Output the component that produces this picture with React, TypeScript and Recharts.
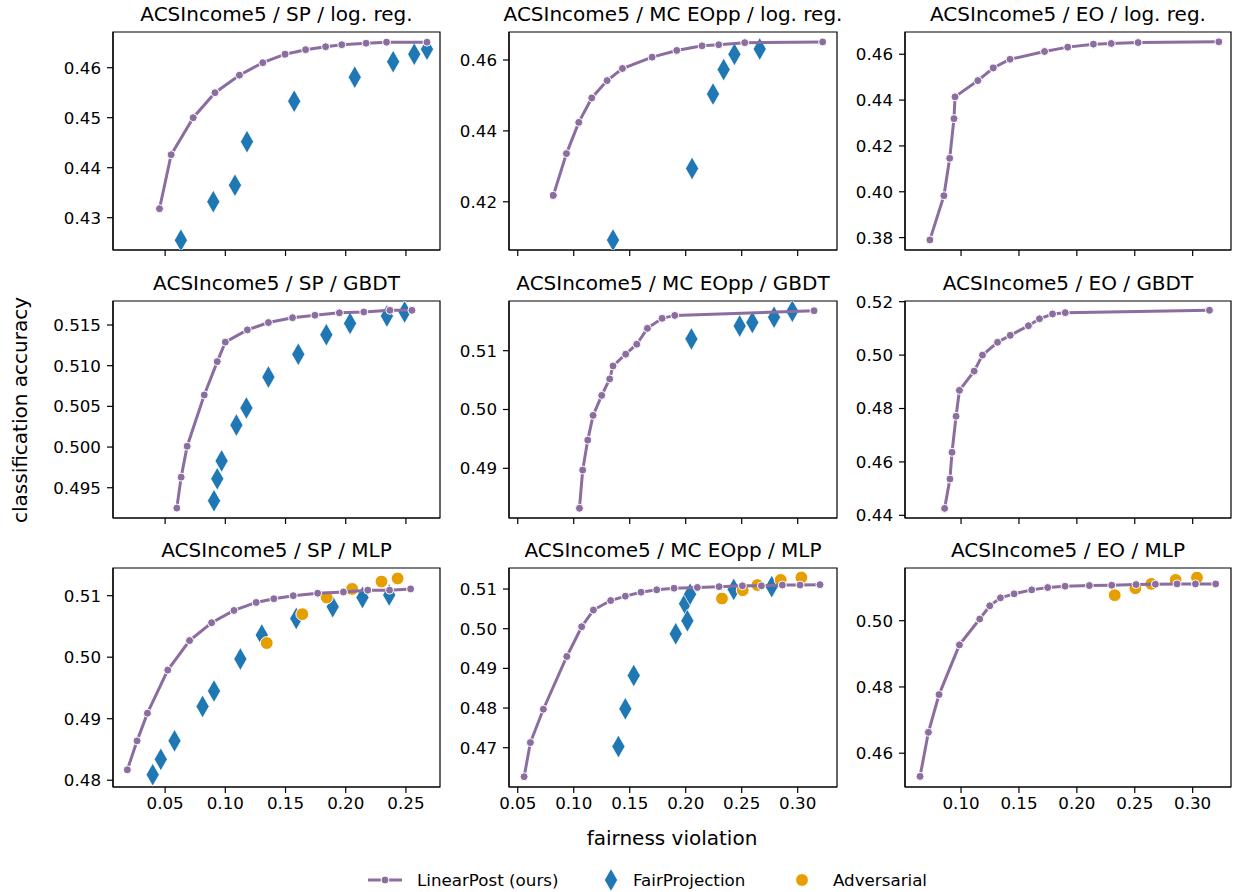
import React from 'react'
import { ScatterChart, Scatter, XAxis, YAxis, ReferenceArea } from 'recharts'

const PURPLE = '#8b6d9f'
const BLUE = '#1f77b4'
const ORANGE = '#e69f00'
const FONT = '"DejaVu Sans", sans-serif'

type Pt = [number, number]

// --- log. reg. row ---
const spLogregLinear: Pt[] = [
  [0.0453, 0.4318], [0.055, 0.4426], [0.0733, 0.45], [0.0914, 0.455], [0.1117, 0.4585],
  [0.1311, 0.461], [0.1497, 0.4627], [0.1667, 0.4636], [0.1833, 0.4642], [0.1967, 0.4646],
  [0.2169, 0.4649], [0.2339, 0.4651], [0.2675, 0.4651]
]
const spLogregFair: Pt[] = [
  [0.0631, 0.4255], [0.09, 0.4332], [0.108, 0.4365], [0.118, 0.4452], [0.1572, 0.4533],
  [0.2075, 0.4581], [0.2394, 0.4612], [0.2569, 0.4627], [0.2675, 0.4637]
]
const mcLogregLinear: Pt[] = [
  [0.0818, 0.4218], [0.0935, 0.4336], [0.1045, 0.4424], [0.1161, 0.4493], [0.1298, 0.4542],
  [0.1435, 0.4576], [0.17, 0.4608], [0.192, 0.4627], [0.2146, 0.464], [0.2295, 0.4643],
  [0.2527, 0.4649], [0.3223, 0.4651]
]
const mcLogregFair: Pt[] = [
  [0.1351, 0.4092], [0.2057, 0.4294], [0.2244, 0.4504], [0.2339, 0.4573], [0.2435, 0.4616],
  [0.2661, 0.4631]
]
const eoLogregLinear: Pt[] = [
  [0.0731, 0.379], [0.0852, 0.3983], [0.0902, 0.4146], [0.0939, 0.4319], [0.0948, 0.4414],
  [0.1145, 0.4485], [0.1278, 0.454], [0.1423, 0.4578], [0.1721, 0.4612], [0.1921, 0.4631],
  [0.2143, 0.4644], [0.2297, 0.4647], [0.2529, 0.4651], [0.3226, 0.4654]
]

// --- GBDT row ---
const spGbdtLinear: Pt[] = [
  [0.0597, 0.4925], [0.0633, 0.4963], [0.0683, 0.5001], [0.0825, 0.5064], [0.0933, 0.5105],
  [0.1, 0.5129], [0.1183, 0.5144], [0.1358, 0.5153], [0.1558, 0.5159], [0.1744, 0.5162],
  [0.1947, 0.5165], [0.215, 0.5166], [0.2367, 0.5168], [0.255, 0.5168]
]
const spGbdtFair: Pt[] = [
  [0.0906, 0.4934], [0.0933, 0.4961], [0.0969, 0.4983], [0.1092, 0.5027], [0.1175, 0.5048],
  [0.1358, 0.5086], [0.1606, 0.5114], [0.1839, 0.5138], [0.2036, 0.5152], [0.2342, 0.5161],
  [0.2489, 0.5166]
]
const mcGbdtLinear: Pt[] = [
  [0.1051, 0.4832], [0.108, 0.4897], [0.1125, 0.4948], [0.1173, 0.499], [0.125, 0.5024],
  [0.1321, 0.5052], [0.1351, 0.5074], [0.1464, 0.5094], [0.1563, 0.5111], [0.1658, 0.5138],
  [0.1789, 0.5155], [0.1902, 0.516], [0.3146, 0.5168]
]
const mcGbdtFair: Pt[] = [
  [0.2051, 0.512], [0.2482, 0.5142], [0.2595, 0.5148], [0.2789, 0.5157], [0.2952, 0.5167]
]
const eoGbdtLinear: Pt[] = [
  [0.0858, 0.4426], [0.0904, 0.4536], [0.0922, 0.4636], [0.0957, 0.4771], [0.0986, 0.4868],
  [0.1113, 0.494], [0.1185, 0.5], [0.1315, 0.5048], [0.1425, 0.5074], [0.1582, 0.511],
  [0.1677, 0.5136], [0.179, 0.5154], [0.19, 0.5159], [0.3145, 0.5168]
]

// --- MLP row ---
const spMlpLinear: Pt[] = [
  [0.0186, 0.4817], [0.0267, 0.4864], [0.0353, 0.4909], [0.0522, 0.4979], [0.0703, 0.5027],
  [0.0886, 0.5056], [0.1072, 0.5076], [0.1256, 0.5089], [0.1403, 0.5095], [0.1564, 0.51],
  [0.1767, 0.5104], [0.1981, 0.5106], [0.2183, 0.5109], [0.2364, 0.5109], [0.2539, 0.5111]
]
const spMlpFair: Pt[] = [
  [0.0397, 0.4809], [0.0464, 0.4834], [0.0578, 0.4864], [0.0811, 0.492], [0.0906, 0.4945],
  [0.1125, 0.4997], [0.1303, 0.5036], [0.1589, 0.5063], [0.1892, 0.5082], [0.2139, 0.5097],
  [0.2361, 0.5101]
]
const spMlpAdv: Pt[] = [
  [0.1344, 0.5023], [0.1639, 0.507], [0.1842, 0.5097], [0.2053, 0.5111], [0.2297, 0.5123],
  [0.2431, 0.5128]
]
const mcMlpLinear: Pt[] = [
  [0.0557, 0.4627], [0.0613, 0.4713], [0.0729, 0.4797], [0.0938, 0.493], [0.1071, 0.5005],
  [0.1176, 0.5047], [0.133, 0.5071], [0.1461, 0.5082], [0.1601, 0.5092], [0.1741, 0.5098],
  [0.1896, 0.5102], [0.2104, 0.5104], [0.2298, 0.5106], [0.2506, 0.5108], [0.2676, 0.5108],
  [0.2863, 0.511], [0.3021, 0.511], [0.3199, 0.5111]
]
const mcMlpFair: Pt[] = [
  [0.1399, 0.4703], [0.1461, 0.4798], [0.1536, 0.4882], [0.1911, 0.4987], [0.1994, 0.5063],
  [0.2015, 0.502], [0.2039, 0.5087], [0.2429, 0.5099], [0.2768, 0.5106]
]
const mcMlpAdv: Pt[] = [
  [0.2324, 0.5076], [0.2509, 0.5097], [0.264, 0.511], [0.2848, 0.5123], [0.3033, 0.5129]
]
const eoMlpLinear: Pt[] = [
  [0.0646, 0.453], [0.0718, 0.4663], [0.081, 0.4777], [0.0986, 0.4927], [0.1161, 0.5005],
  [0.1248, 0.5045], [0.134, 0.5069], [0.1458, 0.5081], [0.161, 0.5093], [0.1748, 0.51],
  [0.1898, 0.5104], [0.2108, 0.5106], [0.2301, 0.5107], [0.2511, 0.5109], [0.2678, 0.511],
  [0.2865, 0.5111], [0.3024, 0.5111], [0.3199, 0.5111]
]
const eoMlpAdv: Pt[] = [
  [0.2327, 0.5077], [0.2505, 0.5098], [0.2643, 0.5111], [0.2853, 0.5123], [0.3037, 0.513]
]

// axis ranges and ticks
const colXDomain: Pt[] = [[0.0067, 0.2783], [0.0422, 0.3351], [0.0516, 0.3331]]
const colXTicks = [
  [0.05, 0.1, 0.15, 0.2, 0.25],
  [0.05, 0.1, 0.15, 0.2, 0.25, 0.3],
  [0.1, 0.15, 0.2, 0.25, 0.3]
]
const titles = [
  'ACSIncome5 / SP / log. reg.', 'ACSIncome5 / MC EOpp / log. reg.', 'ACSIncome5 / EO / log. reg.',
  'ACSIncome5 / SP / GBDT', 'ACSIncome5 / MC EOpp / GBDT', 'ACSIncome5 / EO / GBDT',
  'ACSIncome5 / SP / MLP', 'ACSIncome5 / MC EOpp / MLP', 'ACSIncome5 / EO / MLP'
]
const yDomains: Pt[] = [
  [0.42354, 0.46714], [0.4064, 0.4679], [0.3746, 0.4697],
  [0.49128, 0.51795], [0.48155, 0.51845], [0.439, 0.52026],
  [0.4789, 0.5145], [0.4601, 0.5153], [0.4498, 0.5159]
]
const yTicks = [
  [0.43, 0.44, 0.45, 0.46], [0.42, 0.44, 0.46], [0.38, 0.4, 0.42, 0.44, 0.46],
  [0.495, 0.5, 0.505, 0.51, 0.515], [0.49, 0.5, 0.51], [0.44, 0.46, 0.48, 0.5, 0.52],
  [0.48, 0.49, 0.5, 0.51], [0.47, 0.48, 0.49, 0.5, 0.51], [0.46, 0.48, 0.5]
]
const yDecimals = [2, 2, 2, 3, 2, 2, 2, 2, 2]
const linearSeries = [
  spLogregLinear, mcLogregLinear, eoLogregLinear,
  spGbdtLinear, mcGbdtLinear, eoGbdtLinear,
  spMlpLinear, mcMlpLinear, eoMlpLinear
]
const fairSeries = [
  spLogregFair, mcLogregFair, [],
  spGbdtFair, mcGbdtFair, [],
  spMlpFair, mcMlpFair, []
]
const advSeries = [[], [], [], [], [], [], spMlpAdv, mcMlpAdv, eoMlpAdv]

// layout
const colLeft = [113, 509, 905]
const colWidth = [327, 328, 326]
const rowTop = [32, 301, 568]
const rowHeight = [218, 217, 219]
const YW = 80
const MT = 14
const MR = 14
const XH = 40

const toPts = (arr: Pt[]) => arr.map(([x, y]) => ({ x, y }))

const Diamond = (props: any) => {
  const { cx, cy } = props
  if (cx == null || cy == null) return null
  return (
    <path
      d={`M${cx},${cy - 11.5} L${cx + 6.6},${cy} L${cx},${cy + 11.5} L${cx - 6.6},${cy} Z`}
      fill={BLUE}
      stroke='#fff'
      strokeWidth={0.8}
    />
  )
}

const SmallDot = (props: any) => {
  const { cx, cy } = props
  if (cx == null || cy == null) return null
  return <circle cx={cx} cy={cy} r={4} fill={PURPLE} stroke='#fff' strokeWidth={1} />
}

const BigDot = (props: any) => {
  const { cx, cy } = props
  if (cx == null || cy == null) return null
  return <circle cx={cx} cy={cy} r={6.4} fill={ORANGE} stroke='#fff' strokeWidth={1} />
}

const tickStyle = { fontSize: 16.7, fill: '#000', fontFamily: FONT }

const Panel = ({ idx }: { idx: number }) => {
  const row = Math.floor(idx / 3)
  const col = idx % 3
  const w = colWidth[col]
  const h = rowHeight[row]
  const xd = colXDomain[col]
  const yd = yDomains[idx]
  const dec = yDecimals[idx]
  const showX = row === 2

  return (
    <>
      <div
        style={{
          position: 'absolute',
          left: colLeft[col] - 40,
          top: rowTop[row] - 30,
          width: w + 80,
          height: 24,
          lineHeight: '24px',
          textAlign: 'center',
          fontFamily: FONT,
          fontSize: 20,
          color: '#000',
          whiteSpace: 'nowrap'
        }}
      >
        {titles[idx]}
      </div>
      <div style={{ position: 'absolute', left: colLeft[col] - YW, top: rowTop[row] - MT }}>
        <ScatterChart
          width={YW + w + MR}
          height={MT + h + XH}
          margin={{ top: MT, right: MR, bottom: 0, left: 0 }}
        >
          <XAxis
            type='number'
            dataKey='x'
            domain={xd}
            ticks={colXTicks[col]}
            interval={0}
            allowDataOverflow
            height={XH}
            tickSize={6}
            tickMargin={4}
            tick={tickStyle}
            tickFormatter={(v: number) => (showX ? v.toFixed(2) : '')}
            axisLine={{ stroke: '#000', strokeWidth: 1.2 }}
            tickLine={{ stroke: '#000', strokeWidth: 1.2 }}
          />
          <YAxis
            type='number'
            dataKey='y'
            domain={yd}
            ticks={yTicks[idx]}
            interval={0}
            allowDataOverflow
            width={YW}
            tickSize={6}
            tickMargin={6}
            tick={tickStyle}
            tickFormatter={(v: number) => v.toFixed(dec)}
            axisLine={{ stroke: '#000', strokeWidth: 1.2 }}
            tickLine={{ stroke: '#000', strokeWidth: 1.2 }}
          />
          <ReferenceArea
            x1={xd[0]}
            x2={xd[1]}
            y1={yd[0]}
            y2={yd[1]}
            fill='none'
            fillOpacity={0}
            stroke='#000'
            strokeWidth={1.2}
            strokeOpacity={1}
          />
          <Scatter
            name='FairProjection'
            data={toPts(fairSeries[idx] as Pt[])}
            shape={Diamond}
            fill={BLUE}
            isAnimationActive={false}
          />
          <Scatter
            name='Adversarial'
            data={toPts(advSeries[idx] as Pt[])}
            shape={BigDot}
            fill={ORANGE}
            isAnimationActive={false}
          />
          <Scatter
            name='LinearPost (ours)'
            data={toPts(linearSeries[idx])}
            fill={PURPLE}
            line={{ stroke: PURPLE, strokeWidth: 3 }}
            lineType='joint'
            shape={SmallDot}
            isAnimationActive={false}
          />
        </ScatterChart>
      </div>
    </>
  )
}

const Legend = () => (
  <svg
    width={1235}
    height={30}
    style={{ position: 'absolute', left: 0, top: 865 }}
    fontFamily={FONT}
    fontSize={16.7}
  >
    <line x1={368} x2={402} y1={15} y2={15} stroke={PURPLE} strokeWidth={3} />
    <circle cx={385} cy={15} r={4} fill={PURPLE} stroke='#fff' strokeWidth={1} />
    <text x={417} y={15} dominantBaseline='central' fill='#000'>LinearPost (ours)</text>
    <path d='M611,3.5 L617.6,15 L611,26.5 L604.4,15 Z' fill={BLUE} stroke='#fff' strokeWidth={0.8} />
    <text x={633} y={15} dominantBaseline='central' fill='#000'>FairProjection</text>
    <circle cx={802} cy={15} r={6.4} fill={ORANGE} stroke='#fff' strokeWidth={1} />
    <text x={833} y={15} dominantBaseline='central' fill='#000'>Adversarial</text>
  </svg>
)

export default function App() {
  return (
    <div
      style={{
        position: 'absolute',
        left: 0,
        top: 0,
        width: 1235,
        height: 892,
        background: '#fff',
        overflow: 'hidden'
      }}
    >
      {titles.map((_, i) => (
        <Panel key={i} idx={i} />
      ))}
      <div
        style={{
          position: 'absolute',
          left: 20 - 150,
          top: 410 - 12,
          width: 300,
          height: 24,
          lineHeight: '24px',
          textAlign: 'center',
          transform: 'rotate(-90deg)',
          fontFamily: FONT,
          fontSize: 20,
          color: '#000'
        }}
      >
        classification accuracy
      </div>
      <div
        style={{
          position: 'absolute',
          left: 672 - 150,
          top: 838 - 12,
          width: 300,
          height: 24,
          lineHeight: '24px',
          textAlign: 'center',
          fontFamily: FONT,
          fontSize: 20,
          color: '#000'
        }}
      >
        fairness violation
      </div>
      <Legend />
    </div>
  )
}
